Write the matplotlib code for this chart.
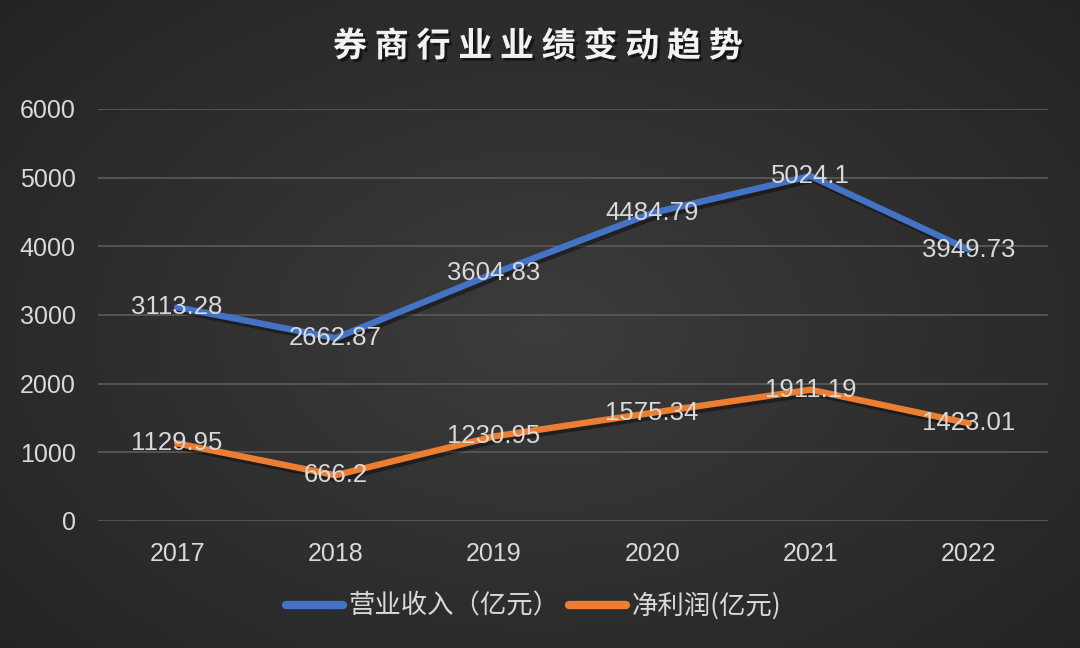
import numpy as np
import matplotlib.pyplot as plt
import matplotlib.patheffects as pe

years = ["2017", "2018", "2019", "2020", "2021", "2022"]
revenue = [3113.28, 2662.87, 3604.83, 4484.79, 5024.1, 3949.73]
net_profit = [1129.95, 666.2, 1230.95, 1575.34, 1911.19, 1423.01]
revenue_labels = ["3113.28", "2662.87", "3604.83", "4484.79", "5024.1", "3949.73"]
profit_labels = ["1129.95", "666.2", "1230.95", "1575.34", "1911.19", "1423.01"]

plt.rcParams['font.family'] = ['Liberation Sans', 'Noto Sans CJK SC', 'DejaVu Sans']
cjk = ['Noto Sans CJK SC', 'DejaVu Sans']
txt_color = "#d9d9d9"

fig = plt.figure(figsize=(10.8, 6.48), dpi=100)

# radial gradient background (smooth, rgb array to avoid banding)
bg = fig.add_axes([0, 0, 1, 1])
yy, xx = np.mgrid[0:648, 0:1080]
r = np.sqrt(((xx - 540) / 640.0) ** 2 + ((yy - 330) / 430.0) ** 2)
shade = np.clip(0.235 - 0.085 * r, 0.14, 0.235)
bg.imshow(np.dstack([shade, shade, shade]), aspect="auto", interpolation="bilinear")
bg.axis("off")

ax = fig.add_axes([98 / 1080, 1 - 521 / 648, 950 / 1080, 412 / 648])
ax.patch.set_alpha(0)
x = np.arange(len(years))

shadow = [pe.SimpleLineShadow(offset=(2, -2.5), shadow_color="black", alpha=0.4), pe.Normal()]
ax.plot(x, revenue, color="#4472C4", lw=4.6, solid_capstyle="round",
        label="营业收入（亿元）", path_effects=shadow, zorder=3)
ax.plot(x, net_profit, color="#ED7D31", lw=4.6, solid_capstyle="round",
        label="净利润(亿元)", path_effects=shadow, zorder=3)

for xi, v, s in zip(x, revenue, revenue_labels):
    ax.text(xi, v, s, ha="center", va="center", color=txt_color, fontsize=18.5, zorder=4)
for xi, v, s in zip(x, net_profit, profit_labels):
    ax.text(xi, v, s, ha="center", va="center", color=txt_color, fontsize=18.5, zorder=4)

ax.set_xlim(-0.5, 5.5)
ax.set_ylim(0, 6000)
ax.set_yticks(range(0, 6001, 1000))
ax.set_xticks(x)
ax.set_xticklabels(years)
ax.tick_params(axis="both", length=0, labelsize=18, labelcolor=txt_color)
ax.tick_params(axis="y", pad=16)
ax.tick_params(axis="x", pad=15)
ax.grid(axis="y", color="#555555", lw=1.4)
ax.set_axisbelow(True)
for sp in ax.spines.values():
    sp.set_visible(False)

fig.text(0.498, 1 - 46 / 648, "券 商 行 业 业 绩 变 动 趋 势", ha="center", va="center",
         fontsize=24.5, fontweight="bold", color="#f2f2f2", family=cjk,
         path_effects=[pe.withSimplePatchShadow(offset=(2, -2), shadow_rgbFace="black", alpha=0.5)])

leg = fig.legend(loc="center", bbox_to_anchor=(0.494, 1 - 606 / 648), ncol=2, frameon=False,
                 prop={"family": cjk, "size": 19}, handlelength=2.15, handletextpad=0.2,
                 columnspacing=0.4)
for t in leg.get_texts():
    t.set_color(txt_color)
for h in leg.get_lines():
    h.set_path_effects([pe.Normal()])
    h.set_linewidth(6)

fig.savefig("out.png", dpi=100)
